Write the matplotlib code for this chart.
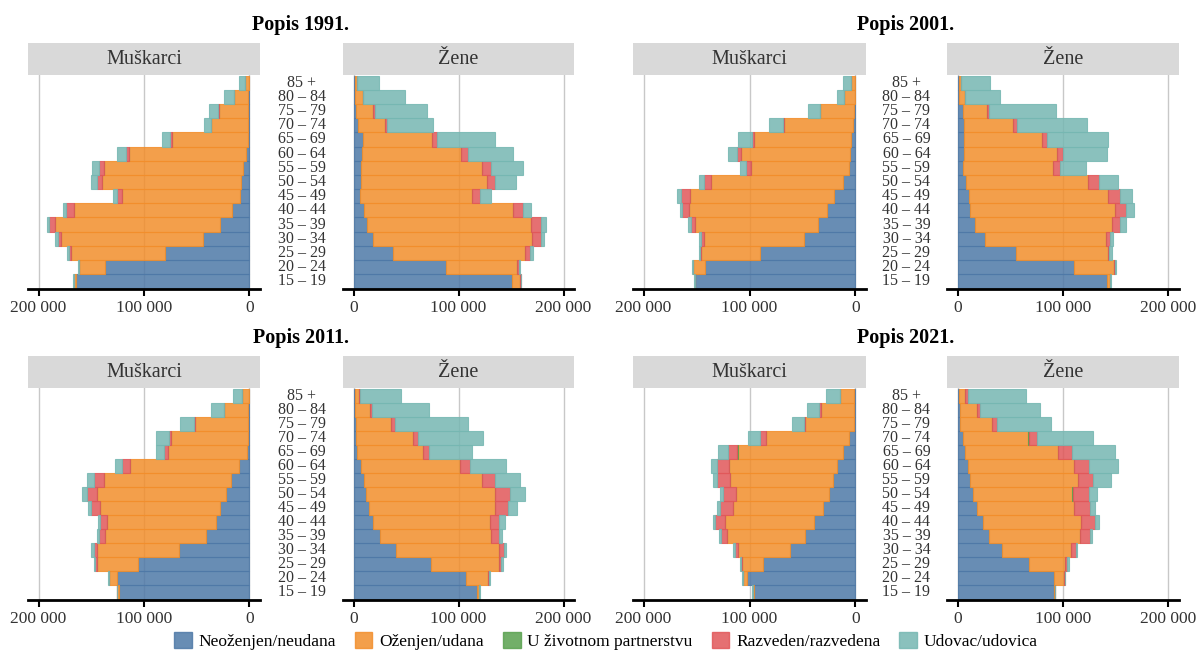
import matplotlib
matplotlib.use("Agg")
import matplotlib.pyplot as plt
import matplotlib.transforms as mtransforms
from matplotlib.patches import Rectangle, Patch
import numpy as np

plt.rcParams["font.family"] = ["Liberation Serif", "DejaVu Serif"]

# dobne skupine (od najmlađe prema najstarijoj)
ages = ["15 – 19", "20 – 24", "25 – 29", "30 – 34", "35 – 39", "40 – 44", "45 – 49",
        "50 – 54", "55 – 59", "60 – 64", "65 – 69", "70 – 74", "75 – 79", "80 – 84", "85 +"]

statuses = ["Neoženjen/neudana", "Oženjen/udana", "U životnom partnerstvu",
            "Razveden/razvedena", "Udovac/udovica"]
colors = ["#4E79A7", "#F28E2B", "#59A14F", "#E15759", "#76B7B2"]

# vrijednosti u tisućama
# Popis 1991.
m91_single = [164.7, 137.0, 79.8, 44.2, 28.4, 16.7, 8.8, 7.9, 6.3, 3.0, 1.6, 1.0, 1.0, 1.0, 0.5]
m91_married = [1.9, 24.5, 89.6, 134.8, 155.6, 149.9, 112.0, 132.1, 131.2, 111.5, 71.9, 35.3, 28.3, 13.8, 3.5]
m91_partner = [0, 0, 0, 0, 0, 0, 0, 0, 0, 0, 0, 0, 0, 0, 0]
m91_divorced = [0.0, 0.6, 1.9, 3.0, 6.0, 6.9, 5.2, 5.0, 5.1, 2.9, 1.6, 0.5, 0.5, 0.2, 0.2]
m91_widowed = [0.3, 0.7, 1.3, 2.5, 2.4, 3.2, 3.0, 5.0, 6.4, 8.6, 8.2, 6.7, 8.7, 9.3, 5.3]
f91_single = [151.0, 88.0, 37.5, 18.6, 13.2, 9.8, 6.6, 7.6, 7.6, 8.5, 9.1, 4.4, 2.5, 1.9, 1.3]
f91_married = [8.0, 67.8, 126.2, 151.7, 155.8, 141.9, 106.0, 119.8, 115.1, 93.7, 65.3, 25.3, 16.1, 7.2, 2.5]
f91_partner = [0, 0, 0, 0, 0, 0, 0, 0, 0, 0, 0, 0, 0, 0, 0]
f91_divorced = [0.2, 1.6, 4.8, 8.2, 9.9, 9.5, 7.6, 7.3, 7.9, 6.8, 4.8, 1.8, 1.4, 0.2, 0.0]
f91_widowed = [0.6, 1.0, 2.2, 2.5, 4.4, 7.8, 10.4, 19.6, 30.9, 42.7, 55.5, 43.9, 50.0, 39.3, 20.5]

# Popis 2001.
m01_single = [151.3, 141.8, 90.0, 49.0, 34.9, 27.0, 19.8, 11.3, 5.7, 5.0, 4.4, 1.9, 1.0, 0.5, 0.5]
m01_married = [0.6, 11.7, 55.6, 94.4, 116.4, 130.5, 136.8, 124.9, 93.0, 103.2, 91.2, 65.1, 32.3, 9.9, 3.9]
m01_partner = [0, 0, 0, 0, 0, 0, 0, 0, 0, 0, 0, 0, 0, 0, 0]
m01_divorced = [0.0, 0.3, 1.0, 2.2, 4.0, 6.3, 7.9, 7.2, 4.3, 3.8, 2.2, 1.0, 0.5, 0.2, 0.0]
m01_widowed = [0.2, 0.6, 1.4, 1.9, 2.9, 2.2, 3.5, 4.1, 5.8, 8.4, 12.6, 13.4, 10.5, 7.0, 7.6]
f01_single = [141.3, 110.4, 55.5, 25.6, 16.7, 12.0, 10.4, 8.2, 5.0, 6.3, 5.7, 5.7, 5.0, 1.3, 1.0]
f01_married = [3.2, 38.2, 86.8, 114.8, 129.7, 137.5, 131.9, 115.8, 85.9, 87.7, 74.1, 47.3, 22.8, 5.3, 2.5]
f01_partner = [0, 0, 0, 0, 0, 0, 0, 0, 0, 0, 0, 0, 0, 0, 0]
f01_divorced = [0.2, 0.6, 1.5, 4.1, 7.6, 10.1, 11.7, 10.0, 6.3, 6.3, 4.7, 3.8, 2.5, 0.3, 0.2]
f01_widowed = [0.5, 1.0, 2.2, 3.1, 5.3, 7.9, 11.6, 17.7, 24.3, 41.0, 58.4, 65.6, 63.1, 33.5, 27.2]

# Popis 2011.
m11_single = [124.0, 125.2, 105.7, 67.2, 41.6, 31.5, 27.8, 22.7, 17.4, 9.5, 2.5, 1.6, 1.6, 1.6, 0.8]
m11_married = [1.2, 7.8, 39.3, 77.8, 95.6, 103.5, 113.5, 121.8, 120.8, 103.5, 74.8, 72.4, 49.8, 22.1, 6.2]
m11_partner = [0, 0, 0, 0, 0, 0, 0, 0, 0, 0, 0, 0, 0, 0, 0]
m11_divorced = [0.0, 0.3, 1.0, 2.6, 5.4, 7.0, 8.5, 9.5, 9.4, 7.5, 3.7, 2.3, 1.2, 0.3, 0.2]
m11_widowed = [0.2, 0.6, 1.6, 2.2, 1.9, 1.5, 2.9, 4.4, 6.4, 7.3, 8.0, 12.7, 13.6, 12.0, 8.6]
f11_single = [117.4, 107.0, 73.8, 40.7, 25.0, 18.6, 14.8, 12.3, 9.8, 7.0, 3.8, 2.8, 2.8, 1.3, 1.3]
f11_married = [2.2, 21.4, 64.7, 97.8, 106.2, 111.1, 119.9, 122.4, 112.9, 94.6, 62.2, 54.2, 33.2, 14.2, 3.7]
f11_partner = [0, 0, 0, 0, 0, 0, 0, 0, 0, 0, 0, 0, 0, 0, 0]
f11_divorced = [0.1, 0.4, 2.2, 4.7, 7.3, 9.3, 12.6, 13.9, 12.0, 9.4, 5.6, 4.8, 3.7, 2.2, 1.3]
f11_widowed = [0.5, 0.9, 1.9, 2.5, 3.1, 5.2, 8.5, 14.4, 23.7, 34.7, 41.6, 61.9, 69.8, 54.5, 39.1]

# Popis 2021.
m21_single = [96.2, 102.5, 87.7, 61.6, 47.5, 38.7, 30.2, 25.2, 20.8, 17.0, 11.3, 5.7, 1.0, 1.0, 1.0]
m21_married = [0.6, 3.2, 19.5, 49.4, 73.3, 84.3, 85.5, 87.4, 97.4, 101.9, 100.0, 78.6, 46.5, 31.7, 13.5]
m21_partner = [0.1, 0.2, 0.3, 0.3, 0.3, 0.2, 0.2, 0.2, 0.1, 0.1, 0.1, 0.1, 0.0, 0.0, 0.0]
m21_divorced = [0.0, 0.2, 0.8, 2.5, 6.2, 9.4, 12.0, 11.9, 12.0, 11.3, 9.1, 5.7, 1.5, 1.3, 0.5]
m21_widowed = [0.4, 0.7, 0.8, 1.5, 1.3, 1.6, 2.5, 3.2, 4.4, 6.0, 9.6, 11.0, 10.4, 11.3, 13.0]
f21_single = [91.5, 91.8, 67.8, 42.0, 30.3, 24.0, 18.3, 14.5, 11.4, 9.5, 7.3, 5.0, 2.5, 1.9, 1.6]
f21_married = [0.9, 9.2, 34.1, 65.3, 85.7, 93.0, 92.1, 94.5, 103.1, 100.9, 88.3, 62.2, 30.0, 16.4, 5.7]
f21_partner = [0.1, 0.2, 0.3, 0.3, 0.3, 0.2, 0.2, 0.2, 0.1, 0.1, 0.1, 0.1, 0.0, 0.0, 0.0]
f21_divorced = [0.0, 0.3, 1.6, 5.0, 9.0, 13.3, 14.6, 15.0, 14.2, 14.6, 12.6, 8.5, 4.7, 3.2, 2.2]
f21_widowed = [0.3, 0.7, 1.9, 0.7, 2.4, 3.7, 5.3, 8.5, 16.3, 27.4, 41.0, 53.0, 51.1, 56.7, 55.2]

censuses = ["Popis 1991.", "Popis 2001.", "Popis 2011.", "Popis 2021."]
men = [
    [m91_single, m91_married, m91_partner, m91_divorced, m91_widowed],
    [m01_single, m01_married, m01_partner, m01_divorced, m01_widowed],
    [m11_single, m11_married, m11_partner, m11_divorced, m11_widowed],
    [m21_single, m21_married, m21_partner, m21_divorced, m21_widowed],
]
women = [
    [f91_single, f91_married, f91_partner, f91_divorced, f91_widowed],
    [f01_single, f01_married, f01_partner, f01_divorced, f01_widowed],
    [f11_single, f11_married, f11_partner, f11_divorced, f11_widowed],
    [f21_single, f21_married, f21_partner, f21_divorced, f21_widowed],
]

W, H = 1197, 650
fig = plt.figure(figsize=(W / 100, H / 100), dpi=100)

# pozicije panela u pikselima: (lijevo, desno) za muškarce i žene, (vrh, dno) za redove
col_x = [((28, 260), (343, 574)), ((633, 866), (947, 1179))]
row_y = [(75, 289), (388, 600)]
strip_h = 32
ticks = [0, 100000, 200000]
tick_text = ["0", "100 000", "200 000"]
y = np.arange(len(ages))


def fmt_axes(ax, reverse):
    if reverse:
        ax.set_xlim(210000, -10000)
    else:
        ax.set_xlim(-10000, 210000)
    ax.set_ylim(-0.55, len(ages) - 0.45)
    for s in ["left", "right", "top"]:
        ax.spines[s].set_visible(False)
    ax.spines["bottom"].set_linewidth(2)
    ax.spines["bottom"].set_color("black")
    ax.set_yticks([])
    ax.set_xticks(ticks)
    ax.set_xticklabels(tick_text)
    ax.tick_params(axis="x", length=5, width=1.5, labelsize=12.5,
                   labelcolor="#333333", pad=3)
    ax.set_axisbelow(True)
    ax.grid(axis="x", color="#c8c8c8", linewidth=1)


def draw_stack(ax, parts):
    left = np.zeros(len(ages))
    for vals, c in zip(parts, colors):
        v = np.array(vals) * 1000
        ax.barh(y, v, left=left, height=1.0, color=c, alpha=0.85,
                edgecolor=c, linewidth=0.8)
        left += v


def add_strip(ax, label, h_axes):
    ax.add_patch(Rectangle((0, 1), 1, h_axes, transform=ax.transAxes,
                           clip_on=False, facecolor="#d9d9d9", edgecolor="none"))
    ax.text(0.5, 1 + h_axes / 2, label, transform=ax.transAxes, ha="center",
            va="center", fontsize=14.5, color="#333333")


for i, title in enumerate(censuses):
    r, c = divmod(i, 2)
    top, bot = row_y[r]
    (mx0, mx1), (fx0, fx1) = col_x[c]
    ax_h = (bot - top) / H
    ax_m = fig.add_axes([mx0 / W, 1 - bot / H, (mx1 - mx0) / W, ax_h])
    ax_f = fig.add_axes([fx0 / W, 1 - bot / H, (fx1 - fx0) / W, ax_h])
    fmt_axes(ax_m, True)
    fmt_axes(ax_f, False)
    draw_stack(ax_m, men[i])
    draw_stack(ax_f, women[i])
    h_axes = strip_h / (bot - top)
    add_strip(ax_m, "Muškarci", h_axes)
    add_strip(ax_f, "Žene", h_axes)

    # oznake dobnih skupina između panela
    cx = (mx1 + fx0) / 2 / W
    tr = mtransforms.blended_transform_factory(fig.transFigure, ax_m.transData)
    for yy, lab in zip(y, ages):
        fig.text(cx, yy, lab, transform=tr, ha="center", va="center",
                 fontsize=11.5, color="#333333")

    fig.text((mx0 + fx1) / 2 / W, 1 - (top - strip_h - 18) / H, title,
             ha="center", va="center", fontsize=14.5, fontweight="bold")

handles = [Patch(facecolor=c, edgecolor=c, alpha=0.85) for c in colors]
fig.legend(handles, statuses, loc="center", bbox_to_anchor=(606 / W, 1 - 641 / H),
           ncol=5, frameon=False, fontsize=12.5, handlelength=1.0, handleheight=1.0,
           handletextpad=0.4, columnspacing=1.1, borderaxespad=0, borderpad=0)

plt.savefig("out.png", dpi=100)
plt.close()
